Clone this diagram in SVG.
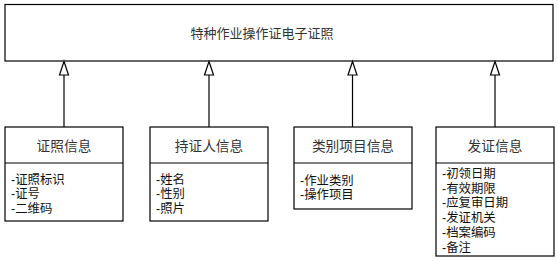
<svg xmlns="http://www.w3.org/2000/svg" width="558" height="261" viewBox="0 0 558 261">
<style>
.box{fill:#fff;stroke:#000;stroke-width:1.2}
.t{font-family:"Liberation Sans","Noto Sans CJK SC",sans-serif;fill:#222}
.h{font-size:13.7px;text-anchor:middle;fill:#333}
.a{font-size:12.4px;fill:#111}
.c{stroke:#000;stroke-width:1.2;fill:none}
.hd{fill:#fff;stroke:#000;stroke-width:1.2}
</style>
<rect width="558" height="261" fill="#fff"/>
<g id="root">
<rect class="box" x="5" y="4.5" width="548" height="56.5"/>
<text class="t h" x="262" y="37.5" style="font-size:13px">特种作业操作证电子证照</text>
</g>
<g id="connectors">
<line class="c" x1="64" y1="75" x2="64" y2="127"/>
<polygon class="hd" points="64,61.5 59.5,75 68.5,75"/>
<line class="c" x1="209" y1="75" x2="209" y2="127"/>
<polygon class="hd" points="209,61.5 204.5,75 213.5,75"/>
<line class="c" x1="352.5" y1="75" x2="352.5" y2="127"/>
<polygon class="hd" points="352.5,61.5 348,75 357,75"/>
<line class="c" x1="495" y1="75" x2="495" y2="127"/>
<polygon class="hd" points="495,61.5 490.5,75 499.5,75"/>
</g>
<g id="n1">
<rect class="box" x="5" y="127" width="118" height="94"/>
<line class="c" x1="5" y1="163" x2="123" y2="163"/>
<text class="t h" x="64" y="151">证照信息</text>
<text class="t a" x="11" y="184">-证照标识</text>
<text class="t a" x="11" y="198">-证号</text>
<text class="t a" x="11" y="213">-二维码</text>
</g>
<g id="n2">
<rect class="box" x="150" y="127" width="118" height="94"/>
<line class="c" x1="150" y1="163" x2="268" y2="163"/>
<text class="t h" x="209" y="151">持证人信息</text>
<text class="t a" x="156" y="184">-姓名</text>
<text class="t a" x="156" y="198">-性别</text>
<text class="t a" x="156" y="213">-照片</text>
</g>
<g id="n3">
<rect class="box" x="294" y="127" width="118" height="82"/>
<line class="c" x1="294" y1="163" x2="412" y2="163"/>
<text class="t h" x="353" y="151">类别项目信息</text>
<text class="t a" x="300" y="185">-作业类别</text>
<text class="t a" x="300" y="199">-操作项目</text>
</g>
<g id="n4">
<rect class="box" x="436" y="127" width="118" height="129"/>
<line class="c" x1="436" y1="163" x2="554" y2="163"/>
<text class="t h" x="495" y="151">发证信息</text>
<text class="t a" x="442" y="178">-初领日期</text>
<text class="t a" x="442" y="193">-有效期限</text>
<text class="t a" x="442" y="207">-应复审日期</text>
<text class="t a" x="442" y="222">-发证机关</text>
<text class="t a" x="442" y="237">-档案编码</text>
<text class="t a" x="442" y="252">-备注</text>
</g>
</svg>
